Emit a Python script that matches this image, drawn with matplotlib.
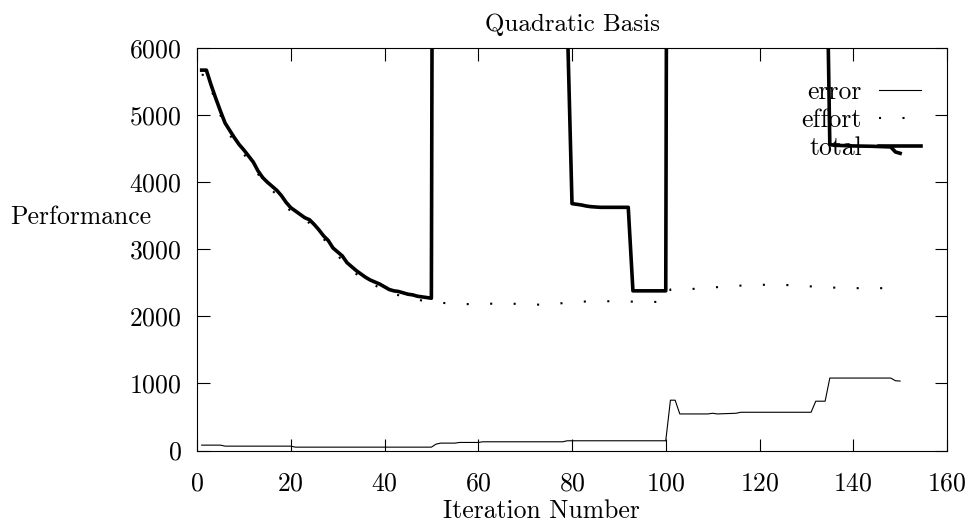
import numpy as np
import matplotlib.pyplot as plt

# iteration numbers and the three performance curves
total_it = [1, 2, 3, 4, 5, 6, 7, 8, 9, 10, 11, 12, 13, 14, 15, 16, 17, 18, 19, 20,
            21, 22, 23, 24, 25, 26, 27, 28, 29, 30, 31, 32, 33, 34, 35, 36, 37, 38, 39, 40,
            41, 42, 43, 44, 45, 46, 47, 48, 49, 50, 51,
            79, 80, 81, 82, 83, 84, 86, 92, 93, 100, 101,
            134, 135, 136, 140, 144, 148, 149, 150]
total = [5670, 5670, 5450, 5250, 5060, 4880, 4770, 4660, 4560, 4480,
         4390, 4300, 4170, 4070, 4000, 3940, 3880, 3800, 3700, 3620,
         3570, 3520, 3470, 3440, 3370, 3290, 3200, 3130, 3020, 2960,
         2900, 2800, 2740, 2680, 2630, 2580, 2540, 2510, 2480, 2440,
         2400, 2380, 2370, 2350, 2330, 2320, 2300, 2290, 2280, 2270, 30000,
         6400, 3680, 3670, 3660, 3645, 3635, 3625, 3625, 2380, 2380, 30000,
         9000, 4560, 4550, 4540, 4535, 4525, 4450, 4430]

error_it = [1, 5, 6, 20, 21, 50, 51, 52, 55, 56, 60, 61, 78, 79, 100,
            101, 102, 103, 109, 110, 111, 115, 116, 131, 132, 134, 135, 148, 149, 150]
error = [80, 80, 65, 65, 50, 50, 95, 110, 110, 120, 120, 130, 130, 145, 145,
         750, 750, 545, 545, 555, 545, 555, 570, 570, 735, 735, 1080, 1080, 1040, 1035]

effort_it = [1, 2, 3, 4, 5, 6, 8, 10, 12, 14, 16, 18, 20, 22, 24, 26, 28, 30,
             32, 34, 36, 38, 40, 42, 44, 46, 48, 50, 55, 60, 65, 70, 75, 80, 85,
             90, 95, 100, 101, 105, 110, 115, 120, 125, 130, 135, 140, 145, 150]
effort = [5600, 5600, 5390, 5190, 5000, 4815, 4595, 4415, 4240, 4010, 3880,
          3740, 3560, 3470, 3390, 3240, 3070, 2910, 2750, 2630, 2530, 2460,
          2390, 2330, 2300, 2270, 2235, 2215, 2185, 2180, 2195, 2180, 2170,
          2215, 2225, 2225, 2215, 2215, 2400, 2405, 2430, 2455, 2470, 2470,
          2450, 2430, 2420, 2420, 2420]

xticks = [0, 20, 40, 60, 80, 100, 120, 140, 160]
yticks = [0, 1000, 2000, 3000, 4000, 5000, 6000]

plt.rcParams['font.family'] = ['cmr10', 'DejaVu Serif']
plt.rcParams['axes.formatter.use_mathtext'] = True
plt.rcParams['lines.scale_dashes'] = False

fig = plt.figure(figsize=(9.71, 5.27), dpi=100)
ax = fig.add_axes([197 / 971, 76.5 / 527, 750 / 971, 402.5 / 527])

ax.plot(error_it, error, color='black', linewidth=0.8, label='error')
ax.plot(effort_it, effort, color='black', linewidth=1.5,
        linestyle=(0, (1.5, 15.4)), dash_capstyle='butt', label='effort')
ax.plot(total_it, total, color='black', linewidth=2.6, label='total')

ax.set_xlim(0, 160)
ax.set_ylim(0, 6000)
ax.set_xticks(xticks)
ax.set_yticks(yticks)
ax.tick_params(direction='in', length=9, width=0.8, top=True, right=True,
               labelsize=18.5, pad=11)
ax.tick_params(axis='x', pad=15)
for s in ax.spines.values():
    s.set_linewidth(0.8)

ax.set_title('Quadratic Basis', fontsize=18, pad=12)
ax.set_xlabel('Iteration Number', fontsize=18.5)
ax.xaxis.set_label_coords(0.459, -0.122)
ax.set_ylabel('Performance', fontsize=18.5, rotation=0, ha='left', va='center')
ax.yaxis.set_label_coords(-0.249, 0.581)

ax.legend(loc='upper right', bbox_to_anchor=(921 / 971, 1 - 80 / 527),
          bbox_transform=fig.transFigure, frameon=False, markerfirst=False,
          fontsize=18.5, handlelength=1.65, handletextpad=0.65,
          labelspacing=0.18, borderpad=0, borderaxespad=0)

fig.savefig('out.png', dpi=100)
